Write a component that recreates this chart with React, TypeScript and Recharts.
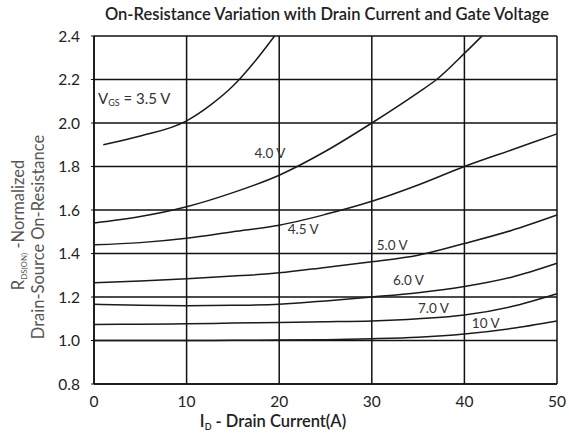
import React from 'react';
import { LineChart, Line, XAxis, YAxis, CartesianGrid, ReferenceDot } from 'recharts';

// drain current (A) and normalized R_DS(on) per gate voltage
const currentA = [0, 5, 10, 15, 20, 25, 30, 35, 40, 45, 50];

const vgs35Current = [1, 5, 10, 12.5, 15, 17.5, 19.5];
const vgs35 = [1.9, 1.94, 2.01, 2.08, 2.17, 2.29, 2.4];

const vgs40Current = [0, 5, 10, 15, 20, 25, 30, 35, 37, 40, 41.9];
const vgs40 = [1.54, 1.57, 1.615, 1.68, 1.76, 1.87, 2.0, 2.14, 2.2, 2.32, 2.4];

const vgs45 = [1.44, 1.45, 1.47, 1.5, 1.53, 1.58, 1.64, 1.715, 1.8, 1.875, 1.95];
const vgs50 = [1.265, 1.273, 1.284, 1.296, 1.311, 1.336, 1.362, 1.392, 1.446, 1.505, 1.577];
const vgs60 = [1.167, 1.162, 1.16, 1.162, 1.167, 1.182, 1.2, 1.22, 1.248, 1.29, 1.355];
const vgs70 = [1.074, 1.075, 1.077, 1.08, 1.083, 1.086, 1.09, 1.1, 1.117, 1.155, 1.215];
const vgs100 = [1.0, 1.0, 1.0, 1.001, 1.002, 1.004, 1.008, 1.015, 1.03, 1.055, 1.09];

const xTicks = [0, 10, 20, 30, 40, 50];
const yTicks = [0.8, 1.0, 1.2, 1.4, 1.6, 1.8, 2.0, 2.2, 2.4];

// curve labels: [text, current, resistance]
const curveLabels: [string, number, number][] = [
  ['4.0 V', 19.0, 1.862],
  ['4.5 V', 22.6, 1.512],
  ['5.0 V', 32.2, 1.439],
  ['6.0 V', 33.95, 1.278],
  ['7.0 V', 36.65, 1.149],
  ['10 V', 42.3, 1.08],
];

const toPoints = (xs: number[], ys: number[]) => xs.map((x, i) => ({ id: x, r: ys[i] }));

const series = [
  toPoints(vgs35Current, vgs35),
  toPoints(vgs40Current, vgs40),
  toPoints(currentA, vgs45),
  toPoints(currentA, vgs50),
  toPoints(currentA, vgs60),
  toPoints(currentA, vgs70),
  toPoints(currentA, vgs100),
];

const FONT = 'Lato, "Open Sans", sans-serif';

export default function App() {
  return (
    <div style={{ position: 'absolute', left: 0, top: 0, background: '#fff' }}>
      <LineChart width={569} height={433} margin={{ top: 36, right: 12, bottom: 19, left: 64 }}>
        <text x={327} y={20} textAnchor="middle" fontFamily={FONT} fontSize={16.5} fontWeight={600} fill="#222">
          On-Resistance Variation with Drain Current and Gate Voltage
        </text>
        <CartesianGrid stroke="#111" strokeWidth={1.5} />
        <XAxis
          type="number"
          dataKey="id"
          domain={[0, 50]}
          ticks={xTicks}
          allowDuplicatedCategory={false}
          height={30}
          tickSize={0}
          tickMargin={12}
          tickLine={false}
          axisLine={{ stroke: '#111', strokeWidth: 1.5 }}
          tick={{ fill: '#222', fontSize: 15.5, fontFamily: FONT }}
          label={{
            content: () => (
              <text x={273} y={427} textAnchor="middle" fontFamily={FONT} fontSize={16.5} fontWeight={600} fill="#222">
                I<tspan fontSize={9} dy={3}>D</tspan>
                <tspan dy={-3}> - Drain Current(A)</tspan>
              </text>
            ),
          }}
        />
        <YAxis
          type="number"
          domain={[0.8, 2.4]}
          ticks={yTicks}
          width={30}
          tickSize={3}
          tickMargin={11}
          tickFormatter={(v: number) => v.toFixed(1)}
          tickLine={{ stroke: '#111' }}
          axisLine={{ stroke: '#111', strokeWidth: 1.5 }}
          tick={{ fill: '#222', fontSize: 15.5, fontFamily: FONT }}
          label={{
            content: () => (
              <g fontFamily={FONT} fontSize={16.5} fill="#555">
                <text transform="translate(24,225) rotate(-90)" textAnchor="middle">
                  R<tspan fontSize={8} dy={3}>DS(ON)</tspan>
                  <tspan dy={-3}> -Normalized</tspan>
                </text>
                <text transform="translate(44,237) rotate(-90)" textAnchor="middle">
                  Drain-Source On-Resistance
                </text>
              </g>
            ),
          }}
        />
        {series.map((d, i) => (
          <Line
            key={i}
            data={d}
            dataKey="r"
            type="monotone"
            stroke="#1a1a1a"
            strokeWidth={1.5}
            dot={false}
            isAnimationActive={false}
          />
        ))}
        <ReferenceDot
          x={0.43}
          y={2.11}
          r={0}
          shape={(p: any) => (
            <text x={p.cx} y={p.cy + 5} fontFamily={FONT} fontSize={15} fill="#333">
              V<tspan fontSize={9} dy={2}>GS</tspan>
              <tspan dy={-2}> = 3.5 V</tspan>
            </text>
          )}
        />
        {curveLabels.map(([t, x, y]) => (
          <ReferenceDot
            key={t}
            x={x}
            y={y}
            r={0}
            shape={(p: any) => (
              <text x={p.cx} y={p.cy + 4.5} textAnchor="middle" fontFamily={FONT} fontSize={13.5} fill="#333">
                {t}
              </text>
            )}
          />
        ))}
      </LineChart>
    </div>
  );
}
